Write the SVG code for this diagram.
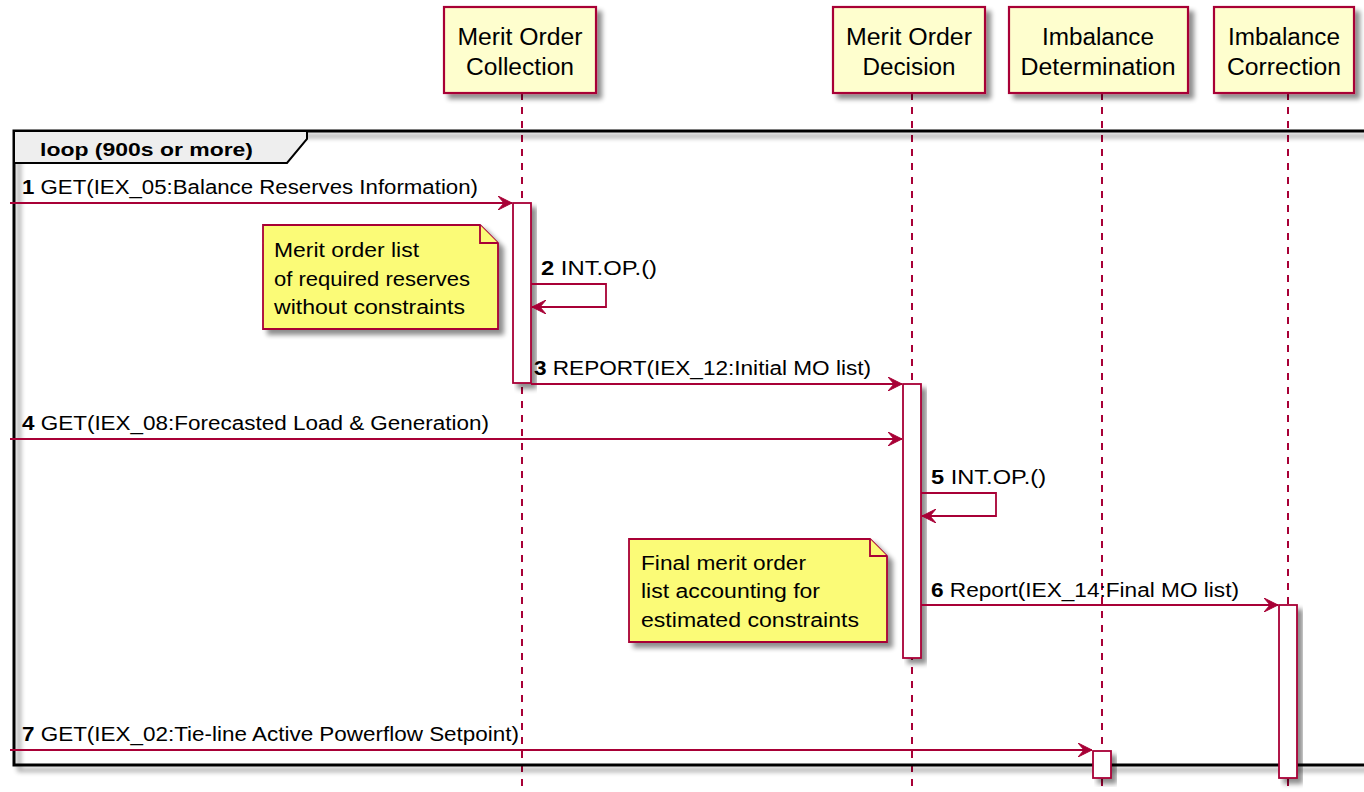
<svg xmlns="http://www.w3.org/2000/svg" width="1364" height="792" viewBox="0 0 1364 792">
<style>
text{font-family:"Liberation Sans",Arial,sans-serif;fill:#000}
.part{fill:#FEFECE;stroke:#A80036;stroke-width:2.2}
.life{stroke:#A80036;stroke-width:2;stroke-dasharray:7,7;fill:none}
.act{fill:#fff;stroke:#A80036;stroke-width:1.8}
.msg{stroke:#A80036;stroke-width:1.8;fill:none}
.note{fill:#FBFB77;stroke:#A80036;stroke-width:1.8}
.pt{font-size:23px}
.ml{font-size:20px}
.nt{font-size:20px}
</style>
<defs>
<filter id="sh" x="-20%" y="-20%" width="150%" height="150%">
<feGaussianBlur in="SourceAlpha" stdDeviation="2.5"/>
<feOffset dx="5" dy="5" result="b"/>
<feComponentTransfer><feFuncA type="linear" slope="0.45"/></feComponentTransfer>
<feMerge><feMergeNode/><feMergeNode in="SourceGraphic"/></feMerge>
</filter>
<marker id="ah" viewBox="0 0 14 14" refX="14" refY="7" markerWidth="14" markerHeight="14" markerUnits="userSpaceOnUse" orient="auto">
<path d="M0,0 L14,7 L0,14 L6,7 Z" fill="#A80036" stroke="#A80036" stroke-width="1"/>
</marker>
</defs>
<rect width="1364" height="792" fill="#fff"/>

<g id="lifelines">
<line class="life" x1="522" y1="93" x2="522" y2="792"/>
<line class="life" x1="912" y1="93" x2="912" y2="792"/>
<line class="life" x1="1102" y1="93" x2="1102" y2="792"/>
<line class="life" x1="1288" y1="93" x2="1288" y2="792"/>
</g>

<g id="p-moc">
<rect class="part" x="444" y="7" width="152" height="86" filter="url(#sh)"/>
<text class="pt" x="520" y="45" text-anchor="middle" textLength="125" lengthAdjust="spacingAndGlyphs">Merit Order</text>
<text class="pt" x="520" y="75" text-anchor="middle" textLength="108" lengthAdjust="spacingAndGlyphs">Collection</text>
</g>
<g id="p-mod">
<rect class="part" x="833" y="7" width="152" height="86" filter="url(#sh)"/>
<text class="pt" x="909" y="45" text-anchor="middle" textLength="126" lengthAdjust="spacingAndGlyphs">Merit Order</text>
<text class="pt" x="909" y="75" text-anchor="middle" textLength="93" lengthAdjust="spacingAndGlyphs">Decision</text>
</g>
<g id="p-det">
<rect class="part" x="1009" y="7" width="179" height="86" filter="url(#sh)"/>
<text class="pt" x="1098" y="45" text-anchor="middle" textLength="112" lengthAdjust="spacingAndGlyphs">Imbalance</text>
<text class="pt" x="1098" y="75" text-anchor="middle" textLength="155" lengthAdjust="spacingAndGlyphs">Determination</text>
</g>
<g id="p-cor">
<rect class="part" x="1214" y="7" width="140" height="86" filter="url(#sh)"/>
<text class="pt" x="1284" y="45" text-anchor="middle" textLength="112" lengthAdjust="spacingAndGlyphs">Imbalance</text>
<text class="pt" x="1284" y="75" text-anchor="middle" textLength="114" lengthAdjust="spacingAndGlyphs">Correction</text>
</g>

<g id="loop">
<rect x="14" y="131" width="1360" height="634" fill="none" stroke="#000" stroke-width="3" filter="url(#sh)"/>
<path d="M14,131 L307,131 L307,139 L287,163 L14,163 Z" fill="#EEEEEE" stroke="#000" stroke-width="2"/>
<text x="40" y="156" font-size="18" font-weight="bold" textLength="213" lengthAdjust="spacingAndGlyphs">loop (900s or more)</text>
</g>

<g id="activations">
<rect class="act" x="513" y="203" width="18" height="180" filter="url(#sh)"/>
<rect class="act" x="903" y="384" width="18" height="274" filter="url(#sh)"/>
<rect class="act" x="1279" y="605" width="18" height="173" filter="url(#sh)"/>
<rect class="act" x="1093" y="751" width="18" height="27" filter="url(#sh)"/>
</g>

<g id="note1">
<path class="note" d="M263,225 L480,225 L498,243 L498,329 L263,329 Z" filter="url(#sh)"/>
<path class="note" d="M480,225 L480,243 L498,243"/>
<text class="nt" x="274" y="257" textLength="145" lengthAdjust="spacingAndGlyphs">Merit order list</text>
<text class="nt" x="274" y="286" textLength="196" lengthAdjust="spacingAndGlyphs">of required reserves</text>
<text class="nt" x="274" y="314" textLength="191" lengthAdjust="spacingAndGlyphs">without constraints</text>
</g>
<g id="note2">
<path class="note" d="M629,539 L870,539 L887,556 L887,642 L629,642 Z" filter="url(#sh)"/>
<path class="note" d="M870,539 L870,556 L887,556"/>
<text class="nt" x="641" y="570" textLength="165" lengthAdjust="spacingAndGlyphs">Final merit order</text>
<text class="nt" x="641" y="598" textLength="179" lengthAdjust="spacingAndGlyphs">list accounting for</text>
<text class="nt" x="641" y="627" textLength="218" lengthAdjust="spacingAndGlyphs">estimated constraints</text>
</g>

<g id="connectors">
<line class="msg" x1="10" y1="203" x2="512" y2="203" marker-end="url(#ah)"/>
<text class="ml" x="22" y="194" textLength="456" lengthAdjust="spacingAndGlyphs"><tspan font-weight="bold">1</tspan> GET(IEX_05:Balance Reserves Information)</text>

<path class="msg" d="M531,284 L606,284 L606,307 L532,307" marker-end="url(#ah)"/>
<text class="ml" x="541" y="275" textLength="116" lengthAdjust="spacingAndGlyphs"><tspan font-weight="bold">2</tspan> INT.OP.()</text>

<line class="msg" x1="531" y1="384" x2="902" y2="384" marker-end="url(#ah)"/>
<text class="ml" x="534" y="375" textLength="337" lengthAdjust="spacingAndGlyphs"><tspan font-weight="bold">3</tspan> REPORT(IEX_12:Initial MO list)</text>

<line class="msg" x1="10" y1="439" x2="902" y2="439" marker-end="url(#ah)"/>
<text class="ml" x="22" y="430" textLength="467" lengthAdjust="spacingAndGlyphs"><tspan font-weight="bold">4</tspan> GET(IEX_08:Forecasted Load &amp; Generation)</text>

<path class="msg" d="M921,493 L996,493 L996,516 L922,516" marker-end="url(#ah)"/>
<text class="ml" x="931" y="484" textLength="115" lengthAdjust="spacingAndGlyphs"><tspan font-weight="bold">5</tspan> INT.OP.()</text>

<line class="msg" x1="921" y1="605" x2="1278" y2="605" marker-end="url(#ah)"/>
<text class="ml" x="931" y="597" textLength="308" lengthAdjust="spacingAndGlyphs"><tspan font-weight="bold">6</tspan> Report(IEX_14:Final MO list)</text>

<line class="msg" x1="10" y1="750" x2="1092" y2="750" marker-end="url(#ah)"/>
<text class="ml" x="22" y="741" textLength="497" lengthAdjust="spacingAndGlyphs"><tspan font-weight="bold">7</tspan> GET(IEX_02:Tie-line Active Powerflow Setpoint)</text>
</g>
</svg>
